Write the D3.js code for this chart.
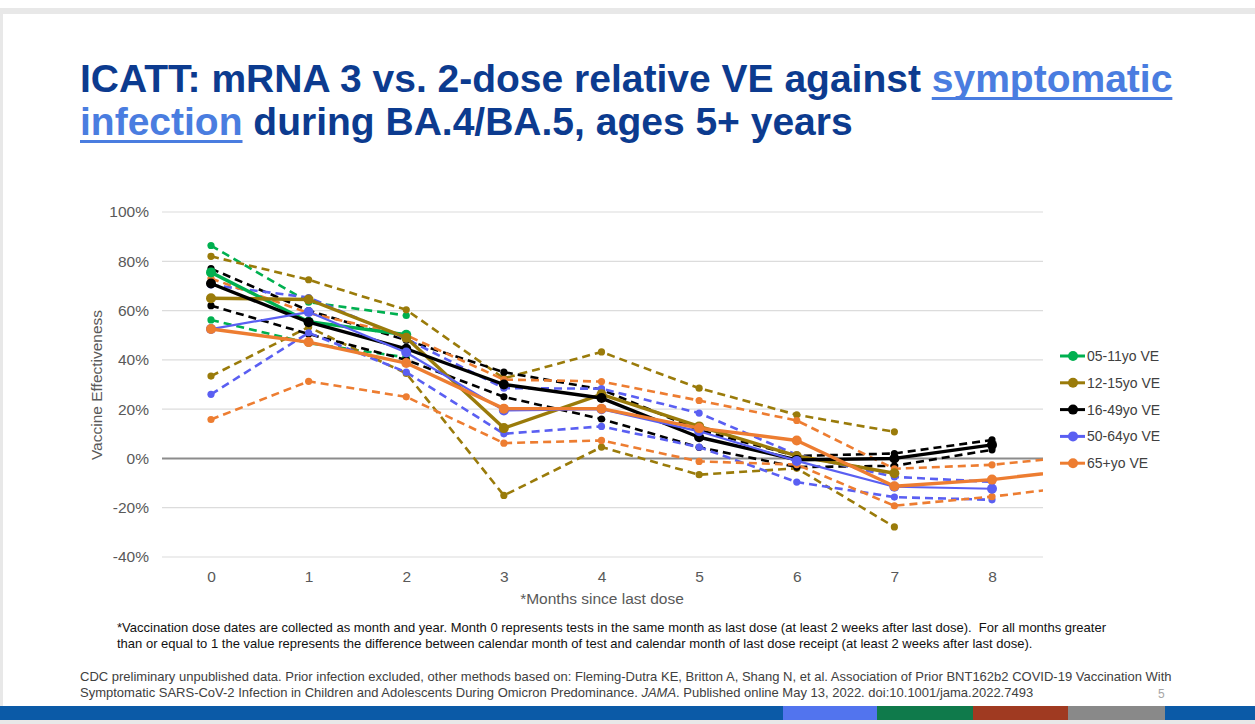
<!DOCTYPE html>
<html>
<head>
<meta charset="utf-8">
<script src="https://cdn.jsdelivr.net/npm/d3@7"></script>
<style>
  body { margin: 0; background: #fff; }
  svg { display: block; font-family: "Liberation Sans", Arial, sans-serif; }
  svg text { white-space: pre; }
</style>
</head>
<body>
<div id="chart"></div>
<script>
// months since last dose (9 is off the right edge, only 65+ reaches it)
const months = [0, 1, 2, 3, 4, 5, 6, 7, 8, 9];
const monthTicks = [0, 1, 2, 3, 4, 5, 6, 7, 8];
const yTicks = [-40, -20, 0, 20, 40, 60, 80, 100];

const seriesNames = ["05-11yo VE", "12-15yo VE", "16-49yo VE", "50-64yo VE", "65+yo VE"];
const seriesColors = ["#00b050", "#9a7b0a", "#000000", "#5a5ff2", "#ed7d31"];

// point estimate, lower and upper bound per age group
const ve05 = [75.5, 55.5, 50.2, null, null, null, null, null, null, null];
const lo05 = [56.2, 46.8, 41, null, null, null, null, null, null, null];
const hi05 = [86.4, 63.4, 58, null, null, null, null, null, null, null];

const ve12 = [65, 64.5, 49, 12.3, 26, 13, 1, -6, null, null];
const lo12 = [33.4, 53.3, 34.5, -15, 4.6, -6.6, -4, -27.8, null, null];
const hi12 = [82, 72.5, 60.3, 32.5, 43.2, 28.5, 17.7, 10.8, null, null];

const ve16 = [71, 55.3, 44.5, 30, 24.5, 8.6, -0.6, 0, 5.5, null];
const lo16 = [62, 50.5, 40, 25, 16, 4.5, -3.5, -3, 3.5, null];
const hi16 = [77, 60, 48, 35, 28, 11.5, 1, 2, 7.5, null];

const ve50 = [52.5, 59.4, 43, 19.5, 20, 11, -1, -11.5, -12.3, null];
const lo50 = [26, 51, 35, 10, 13, 4.6, -9.6, -15.7, -16.8, null];
const hi50 = [70.4, 65.3, 48.5, 28.5, 28.3, 18.4, 1.5, -7.5, -9.5, null];

const ve65 = [52.5, 47.2, 38.7, 20.2, 20.2, 12.3, 7.3, -11.3, -8.6, -4];
const lo65 = [15.8, 31.3, 25, 6.2, 7.3, -1.2, -2.5, -19.2, -15.5, -10.7];
const hi65 = [73, 59, 50, 32, 31.2, 23.5, 15.4, -4.2, -2.6, 1.4];

const pointSeries = [ve05, ve12, ve16, ve50, ve65];
const lowerSeries = [lo05, lo12, lo16, lo50, lo65];
const upperSeries = [hi05, hi12, hi16, hi50, hi65];

const width = 1255;
const height = 724;
const plot = { left: 162, right: 1043, top: 212, bottom: 557 };
const axisFont = 15.5;

const svg = d3.select("#chart").append("svg")
  .attr("width", width)
  .attr("height", height);

// slide frame
svg.append("rect").attr("width", width).attr("height", height).attr("fill", "#fff");
svg.append("rect").attr("x", 0).attr("y", 8).attr("width", width).attr("height", 6).attr("fill", "#e8e8e8");
svg.append("rect").attr("x", 0).attr("y", 8).attr("width", 3).attr("height", 700).attr("fill", "#e8e8e8");
svg.append("rect").attr("x", 0).attr("y", 720).attr("width", width).attr("height", 4).attr("fill", "#e8e8e8");

const barSegments = [
  [0, 783, "#0b5aa7"], [783, 877, "#5274ee"], [877, 973, "#0f7a4b"],
  [973, 1068, "#a03a21"], [1068, 1165, "#898989"], [1165, 1255, "#0b5aa7"],
];
svg.append("g").selectAll("rect").data(barSegments).join("rect")
  .attr("x", d => d[0]).attr("y", 706)
  .attr("width", d => d[1] - d[0]).attr("height", 14)
  .attr("fill", d => d[2]);

// title
const title = svg.append("g")
  .attr("font-size", 39).attr("font-weight", "bold").attr("fill", "#0c3b8f");
const t1 = title.append("text").attr("x", 80).attr("y", 92)
  .text("ICATT: mRNA 3 vs. 2-dose relative VE against ");
const link1 = title.append("text").attr("y", 92).attr("fill", "#4a7de0").text("symptomatic");
const link2 = title.append("text").attr("x", 80).attr("y", 135).attr("fill", "#4a7de0").text("infection");
const t2 = title.append("text").attr("y", 135).text(" during BA.4/BA.5, ages 5+ years");
const w1 = t1.node().getComputedTextLength();
link1.attr("x", 80 + w1);
const wl1 = link1.node().getComputedTextLength();
const wl2 = link2.node().getComputedTextLength();
t2.attr("x", 80 + wl2);
title.append("rect").attr("x", 80 + w1).attr("y", 97).attr("width", wl1).attr("height", 3).attr("fill", "#4a7de0");
title.append("rect").attr("x", 80).attr("y", 140).attr("width", wl2).attr("height", 3).attr("fill", "#4a7de0");

// scales
const x = d3.scaleLinear([0, 8], [211, 992]);
const y = d3.scaleLinear([-40, 100], [plot.bottom, plot.top]);

// gridlines
svg.append("g").selectAll("line").data(yTicks.filter(d => d !== 0)).join("line")
  .attr("x1", plot.left).attr("x2", plot.right)
  .attr("y1", d => y(d)).attr("y2", d => y(d))
  .attr("stroke", "#dcdcdc").attr("stroke-width", 1.2);
svg.append("line")
  .attr("x1", plot.left).attr("x2", plot.right)
  .attr("y1", y(0)).attr("y2", y(0))
  .attr("stroke", "#8c8c8c").attr("stroke-width", 2);

const yAxis = svg.append("g")
  .attr("transform", `translate(${plot.left},0)`)
  .call(d3.axisLeft(y).tickValues(yTicks).tickFormat(d => d + "%").tickSize(0).tickPadding(13));
yAxis.select(".domain").remove();
yAxis.selectAll("text").attr("font-size", axisFont).attr("fill", "#595959")
  .attr("font-family", "Liberation Sans, Arial, sans-serif");

const xAxis = svg.append("g")
  .attr("transform", `translate(0,${plot.bottom})`)
  .call(d3.axisBottom(x).tickValues(monthTicks).tickFormat(d3.format("d")).tickSize(0).tickPadding(14));
xAxis.select(".domain").remove();
xAxis.selectAll("text").attr("font-size", axisFont).attr("fill", "#595959")
  .attr("font-family", "Liberation Sans, Arial, sans-serif");

svg.append("text")
  .attr("transform", "translate(102,385) rotate(-90)")
  .attr("text-anchor", "middle").attr("font-size", axisFont).attr("fill", "#595959")
  .text("Vaccine Effectiveness");
svg.append("text")
  .attr("x", 602).attr("y", 604)
  .attr("text-anchor", "middle").attr("font-size", axisFont).attr("fill", "#595959")
  .text("*Months since last dose");

// lines
svg.append("clipPath").attr("id", "plot-clip")
  .append("rect").attr("x", plot.left).attr("y", 190)
  .attr("width", plot.right - plot.left).attr("height", 390);

const marks = svg.append("g").attr("clip-path", "url(#plot-clip)");
const line = d3.line()
  .defined(d => d[1] != null)
  .x(d => x(d[0]))
  .y(d => y(d[1]));
const pairs = vals => months.map((m, i) => [m, vals[i]]);

const drawSeries = (vals, color, opts) => {
  const g = marks.append("g");
  g.append("path")
    .attr("d", line(pairs(vals)))
    .attr("fill", "none")
    .attr("stroke", color)
    .attr("stroke-width", opts.width)
    .attr("stroke-dasharray", opts.dash)
    .attr("stroke-linejoin", "round");
  g.selectAll("circle")
    .data(pairs(vals).filter(d => d[1] != null))
    .join("circle")
    .attr("cx", d => x(d[0]))
    .attr("cy", d => y(d[1]))
    .attr("r", opts.r)
    .attr("fill", color);
};

seriesColors.forEach((c, i) => {
  drawSeries(lowerSeries[i], c, { width: 2.6, dash: "8,5", r: 3.6 });
  drawSeries(upperSeries[i], c, { width: 2.6, dash: "8,5", r: 3.6 });
});
seriesColors.forEach((c, i) => {
  drawSeries(pointSeries[i], c, { width: i === 3 ? 2.2 : 3.4, dash: null, r: 5 });
});

// legend
const legend = svg.append("g").attr("transform", "translate(1060,356)");
const item = legend.selectAll("g").data(seriesNames).join("g")
  .attr("transform", (d, i) => `translate(0,${i * 26.8})`);
item.append("line").attr("x1", 0).attr("x2", 25)
  .attr("stroke", (d, i) => seriesColors[i]).attr("stroke-width", 3);
item.append("circle").attr("cx", 13).attr("r", 5).attr("fill", (d, i) => seriesColors[i]);
item.append("text").attr("x", 27).attr("dy", "0.35em")
  .attr("font-size", 14).attr("fill", "#404040").text(d => d);

// footnotes
const notes = svg.append("g").attr("font-size", 13).attr("fill", "#111");
notes.append("text").attr("x", 117).attr("y", 632)
  .text("*Vaccination dose dates are collected as month and year. Month 0 represents tests in the same month as last dose (at least 2 weeks after last dose).  For all months greater");
notes.append("text").attr("x", 117).attr("y", 648)
  .text("than or equal to 1 the value represents the difference between calendar month of test and calendar month of last dose receipt (at least 2 weeks after last dose).");

const cite = svg.append("g").attr("font-size", 13).attr("fill", "#404040");
cite.append("text").attr("x", 80).attr("y", 681)
  .text("CDC preliminary unpublished data. Prior infection excluded, other methods based on: Fleming-Dutra KE, Britton A, Shang N, et al. Association of Prior BNT162b2 COVID-19 Vaccination With");
const c2 = cite.append("text").attr("x", 80).attr("y", 697);
c2.append("tspan").text("Symptomatic SARS-CoV-2 Infection in Children and Adolescents During Omicron Predominance. ");
c2.append("tspan").attr("font-style", "italic").text("JAMA");
c2.append("tspan").text(". Published online May 13, 2022. doi:10.1001/jama.2022.7493");

svg.append("text").attr("x", 1158).attr("y", 698)
  .attr("font-size", 12).attr("fill", "#a6a6a6").text("5");
</script>
</body>
</html>
